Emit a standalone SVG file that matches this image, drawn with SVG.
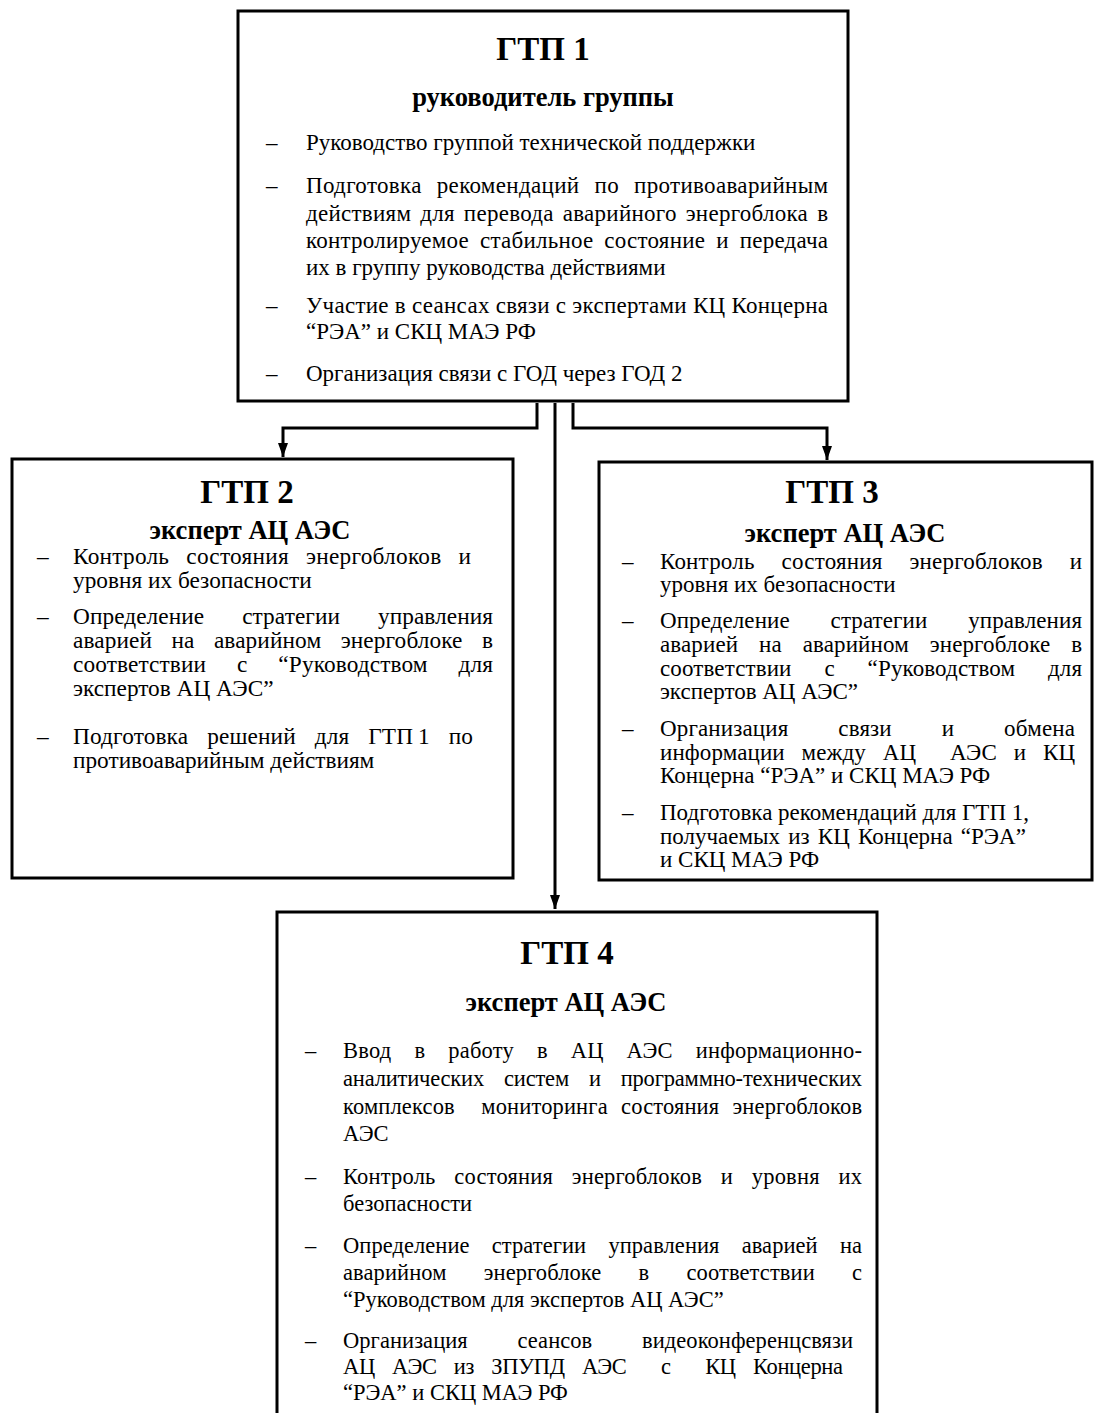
<svg xmlns="http://www.w3.org/2000/svg" width="1094" height="1413" viewBox="0 0 1094 1413">
<style>
text{font-family:"Liberation Serif","Times New Roman",serif;fill:#000}
.t{font-size:33px;font-weight:bold;text-anchor:middle}
.s{font-size:26.5px;font-weight:bold;text-anchor:middle}
.b1{font-size:23px}
.b2{font-size:23.3px}
.b3{font-size:23px}
.b4{font-size:22.5px}
.pre{white-space:pre}
.box{fill:#fff;stroke:#000;stroke-width:3}
.c{fill:none;stroke:#000;stroke-width:3}
</style>
<defs>
<marker id="ah" viewBox="0 0 14 10" refX="14" refY="5" markerWidth="14" markerHeight="10" markerUnits="userSpaceOnUse" orient="auto">
<path d="M0,0 L14,5 L0,10 z" fill="#000"/>
</marker>
</defs>

<g id="connectors">
<path class="c" d="M537,403 V428 H283 V457" marker-end="url(#ah)"/>
<path class="c" d="M555,403 V909" marker-end="url(#ah)"/>
<path class="c" d="M573,403 V428 H827 V460" marker-end="url(#ah)"/>
</g>

<g id="gtp1">
<rect class="box" x="238" y="11" width="610" height="390"/>
<text class="t" x="543" y="60">ГТП 1</text>
<text class="s" x="543" y="106">руководитель группы</text>
<text class="b1" x="266" y="150">–</text>
<text class="b1" x="306" y="150">Руководство группой технической поддержки</text>
<text class="b1" x="266" y="193">–</text>
<text class="b1" x="306" y="193" style="word-spacing:9px" textLength="522" lengthAdjust="spacing">Подготовка рекомендаций по противоаварийным</text>
<text class="b1" x="306" y="221" style="word-spacing:3px" textLength="522" lengthAdjust="spacing">действиям для перевода аварийного энергоблока в</text>
<text class="b1" x="306" y="248" style="word-spacing:5px" textLength="522" lengthAdjust="spacing">контролируемое стабильное состояние и передача</text>
<text class="b1" x="306" y="275">их в группу руководства действиями</text>
<text class="b1" x="266" y="313">–</text>
<text class="b1" x="306" y="313" textLength="522" lengthAdjust="spacing">Участие в сеансах связи с экспертами КЦ Концерна</text>
<text class="b1" x="306" y="339">“РЭА” и СКЦ МАЭ РФ</text>
<text class="b1" x="266" y="381">–</text>
<text class="b1" x="306" y="381">Организация связи с ГОД через ГОД 2</text>
</g>

<g id="gtp2">
<rect class="box" x="12" y="459" width="501" height="419"/>
<text class="t" x="247" y="503">ГТП 2</text>
<text class="s" x="250" y="539">эксперт АЦ АЭС</text>
<text class="b2" x="37" y="564">–</text>
<text class="b2" x="73" y="564" style="word-spacing:11px" textLength="398" lengthAdjust="spacing">Контроль состояния энергоблоков и</text>
<text class="b2" x="73" y="588">уровня их безопасности</text>
<text class="b2" x="37" y="624">–</text>
<text class="b2" x="73" y="624" style="word-spacing:32px" textLength="420" lengthAdjust="spacing">Определение стратегии управления</text>
<text class="b2" x="73" y="648" style="word-spacing:13.5px" textLength="420" lengthAdjust="spacing">аварией на аварийном энергоблоке в</text>
<text class="b2" x="73" y="672" style="word-spacing:25px" textLength="420" lengthAdjust="spacing">соответствии с “Руководством для</text>
<text class="b2" x="73" y="696">экспертов АЦ АЭС”</text>
<text class="b2" x="37" y="744">–</text>
<text class="b2" x="73" y="744" style="word-spacing:13px" textLength="400" lengthAdjust="spacing">Подготовка решений для ГТП&#8201;1 по</text>
<text class="b2" x="73" y="768">противоаварийным действиям</text>
</g>

<g id="gtp3">
<rect class="box" x="599" y="462" width="493" height="418"/>
<text class="t" x="832" y="503">ГТП 3</text>
<text class="s" x="845" y="542">эксперт АЦ АЭС</text>
<text class="b3" x="622" y="569">–</text>
<text class="b3" x="660" y="569" style="word-spacing:21px" textLength="422" lengthAdjust="spacing">Контроль состояния энергоблоков и</text>
<text class="b3" x="660" y="592">уровня их безопасности</text>
<text class="b3" x="622" y="628">–</text>
<text class="b3" x="660" y="628" style="word-spacing:35px" textLength="422" lengthAdjust="spacing">Определение стратегии управления</text>
<text class="b3" x="660" y="652" style="word-spacing:15px" textLength="422" lengthAdjust="spacing">аварией на аварийном энергоблоке в</text>
<text class="b3" x="660" y="676" style="word-spacing:27px" textLength="422" lengthAdjust="spacing">соответствии с “Руководством для</text>
<text class="b3" x="660" y="699">экспертов АЦ АЭС”</text>
<text class="b3" x="622" y="736">–</text>
<text class="b3" x="660" y="736" style="word-spacing:44px" textLength="415" lengthAdjust="spacing">Организация связи и обмена</text>
<text class="b3 pre" x="660" y="760" style="word-spacing:11px" textLength="415" lengthAdjust="spacing">информации между АЦ  АЭС и КЦ</text>
<text class="b3" x="660" y="783">Концерна “РЭА” и СКЦ МАЭ РФ</text>
<text class="b3" x="622" y="820">–</text>
<text class="b3" x="660" y="820">Подготовка рекомендаций для ГТП 1,</text>
<text class="b3" x="660" y="844" style="word-spacing:2.5px">получаемых из КЦ Концерна “РЭА”</text>
<text class="b3" x="660" y="867">и СКЦ МАЭ РФ</text>
</g>

<g id="gtp4">
<path class="box" d="M277,1420 V912 H877 V1420"/>
<text class="t" x="567" y="964">ГТП 4</text>
<text class="s" x="566" y="1011">эксперт АЦ АЭС</text>
<text class="b4" x="305" y="1058">–</text>
<text class="b4" x="343" y="1058" style="word-spacing:17px" textLength="519" lengthAdjust="spacing">Ввод в работу в АЦ АЭС информационно-</text>
<text class="b4" x="343" y="1086" style="word-spacing:14.5px" textLength="519" lengthAdjust="spacing">аналитических систем и программно-технических</text>
<text class="b4 pre" x="343" y="1114" style="word-spacing:7.5px" textLength="519" lengthAdjust="spacing">комплексов  мониторинга состояния энергоблоков</text>
<text class="b4" x="343" y="1141">АЭС</text>
<text class="b4" x="305" y="1184">–</text>
<text class="b4" x="343" y="1184" style="word-spacing:13px" textLength="519" lengthAdjust="spacing">Контроль состояния энергоблоков и уровня их</text>
<text class="b4" x="343" y="1211">безопасности</text>
<text class="b4" x="305" y="1253">–</text>
<text class="b4" x="343" y="1253" style="word-spacing:16.5px" textLength="519" lengthAdjust="spacing">Определение стратегии управления аварией на</text>
<text class="b4" x="343" y="1280" style="word-spacing:31.5px" textLength="519" lengthAdjust="spacing">аварийном энергоблоке в соответствии с</text>
<text class="b4" x="343" y="1307">“Руководством для экспертов АЦ АЭС”</text>
<text class="b4" x="305" y="1348">–</text>
<text class="b4" x="343" y="1348" style="word-spacing:44px" textLength="510" lengthAdjust="spacing">Организация сеансов видеоконференцсвязи</text>
<text class="b4 pre" x="343" y="1374" style="word-spacing:12px" textLength="500" lengthAdjust="spacing">АЦ АЭС из ЗПУПД АЭС  с  КЦ Концерна</text>
<text class="b4" x="343" y="1400">“РЭА” и СКЦ МАЭ РФ</text>
</g>
</svg>
